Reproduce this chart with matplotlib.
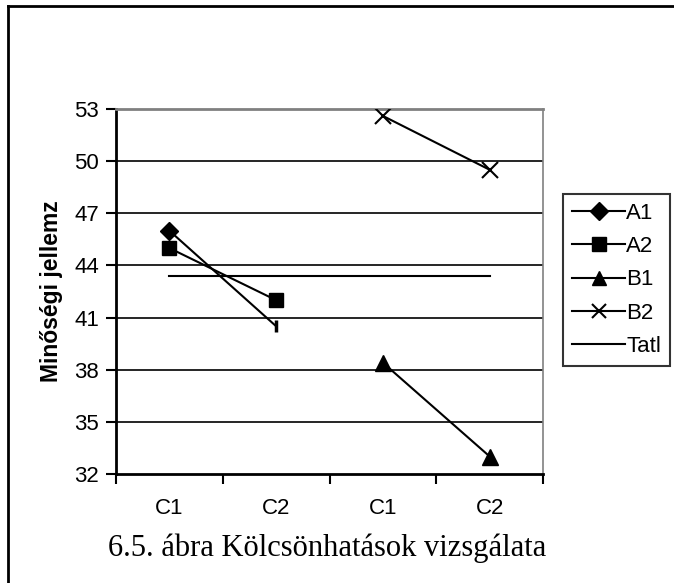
import matplotlib
matplotlib.use("Agg")
import matplotlib.pyplot as plt
from matplotlib.lines import Line2D

categories = ["C1", "C2", "C1", "C2"]
a1 = [46.0, 40.5]
a2 = [45.0, 42.0]
b1 = [38.4, 33.0]
b2 = [52.6, 49.5]
tatl = 43.4
yticks = [32, 35, 38, 41, 44, 47, 50, 53]

plt.rcParams['font.family'] = ['Liberation Sans', 'DejaVu Sans']

fig = plt.figure(figsize=(6.74, 5.83), dpi=100)
ax = fig.add_axes([0.172, 0.187, 0.634, 0.626])

xs = [1, 2, 3, 4]
for y in yticks[1:-1]:
    ax.axhline(y, color='black', lw=1.2, zorder=1)

ax.plot(xs[:2], a1, color='black', lw=1.5, marker='D', ms=9, markevery=[0], zorder=3)
ax.plot(xs[1], a1[1], color='black', marker='|', ms=9, mew=2.5, zorder=3)
ax.plot(xs[:2], a2, color='black', lw=1.5, marker='s', ms=10.5, zorder=3)
ax.plot(xs[2:], b1, color='black', lw=1.5, marker='^', ms=11, zorder=3)
ax.plot(xs[2:], b2, color='black', lw=1.5, marker='x', ms=11, mew=1.5, zorder=3)
ax.plot([xs[0], xs[-1]], [tatl, tatl], color='black', lw=1.5, zorder=2)

ax.set_xlim(0.5, 4.5)
ax.set_ylim(32, 53)
ax.set_yticks(yticks)
ax.set_xticks(xs)
ax.set_xticklabels(categories)
ax.set_xticks([0.5, 1.5, 2.5, 3.5, 4.5], minor=True)
ax.tick_params(axis='x', which='major', length=0, pad=17, labelsize=16)
ax.tick_params(axis='x', which='minor', length=7, width=1.5, direction='out')
ax.tick_params(axis='y', length=7, width=1.5, direction='out', labelsize=16, pad=5)

ax.spines['left'].set_linewidth(2)
ax.spines['bottom'].set_linewidth(2)
ax.spines['top'].set_color('#808080')
ax.spines['right'].set_color('#808080')
ax.spines['top'].set_linewidth(2)
ax.spines['right'].set_linewidth(1.2)

ax.set_ylabel("Minőségi jellemz", fontsize=16.5, fontweight='bold', labelpad=8)

handles = [
    Line2D([], [], color='black', lw=1.5, marker='D', ms=9),
    Line2D([], [], color='black', lw=1.5, marker='s', ms=10),
    Line2D([], [], color='black', lw=1.5, marker='^', ms=10),
    Line2D([], [], color='black', lw=1.5, marker='x', ms=10, mew=1.5),
    Line2D([], [], color='black', lw=1.5),
]
leg = fig.legend(handles, ["A1", "A2", "B1", "B2", "Tatl"],
                 loc='upper left', bbox_to_anchor=(563 / 674, 1 - 194 / 583),
                 fontsize=16, frameon=True, fancybox=False, edgecolor='black',
                 handlelength=2.4, handletextpad=0.05, labelspacing=0.55,
                 borderpad=0.4, borderaxespad=0)
leg.get_frame().set_linewidth(1.5)

fig.text(327 / 674, 1 - 548 / 583, "6.5. ábra Kölcsönhatások vizsgálata",
         fontsize=22, family=['Liberation Serif', 'DejaVu Serif'],
         ha='center', va='center')

# outer frame (left and top edges visible)
fig.add_artist(Line2D([8 / 674, 8 / 674], [0, 1 - 6 / 583], color='black', lw=2,
                      transform=fig.transFigure))
fig.add_artist(Line2D([8 / 674, 1], [1 - 6 / 583, 1 - 6 / 583], color='black', lw=2,
                      transform=fig.transFigure))

fig.savefig("out.png", dpi=100)
